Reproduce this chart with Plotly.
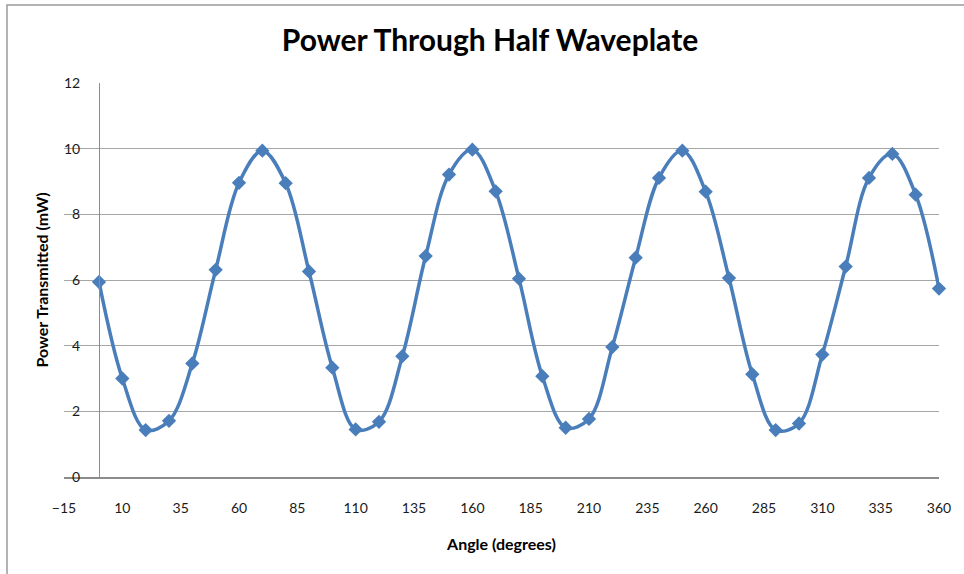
import plotly.graph_objects as go

angles = list(range(0, 361, 10))
power_mw = [5.94, 3.00, 1.43, 1.71, 3.46, 6.31, 8.96, 9.94, 8.95, 6.26,
            3.33, 1.45, 1.68, 3.68, 6.73, 9.21, 9.97, 8.70, 6.04, 3.07,
            1.50, 1.77, 3.96, 6.68, 9.11, 9.94, 8.69, 6.06, 3.13, 1.43,
            1.63, 3.73, 6.41, 9.11, 9.84, 8.60, 5.74]
x_ticks = list(range(-15, 361, 25))
y_ticks = list(range(0, 13, 2))

FONT = "Lato"
GRID = "#A6A6A6"
AXIS = "#8C8C8C"
BLUE = "#4A7EBB"

fig = go.Figure()
fig.add_trace(go.Scatter(
    x=angles, y=power_mw, mode="lines+markers",
    line=dict(color=BLUE, width=3.5, shape="spline", smoothing=1.0),
    marker=dict(symbol="diamond", size=11, color=BLUE),
    cliponaxis=False, showlegend=False,
))

fig.update_layout(
    width=964, height=574,
    paper_bgcolor="white", plot_bgcolor="white",
    margin=dict(l=64, r=25, t=83, b=97),
    font=dict(family=FONT, size=14, color="#1A1A1A"),
    title=dict(text="<b>Power Through Half Waveplate</b>",
               x=490 / 964, xref="container", xanchor="center",
               y=1 - 40 / 574, yref="container", yanchor="middle",
               font=dict(family=FONT, size=30, color="black")),
    xaxis=dict(range=[-15, 360], tickmode="array", tickvals=x_ticks,
               showgrid=False, zeroline=False, showline=True,
               linecolor=AXIS, linewidth=2, ticks="outside", ticklen=0,
               ticklabelstandoff=17,
               title=dict(text="<b>Angle (degrees)</b>", standoff=24,
                          font=dict(family=FONT, size=16, color="black"))),
    yaxis=dict(range=[0, 12], tickmode="array", tickvals=y_ticks,
               anchor="free", position=0.04,
               showgrid=True, gridcolor=GRID, gridwidth=1,
               zeroline=False, showline=True, linecolor=AXIS, linewidth=1,
               ticks="outside", ticklen=0, ticklabelstandoff=16,
               title=dict(text="<b>Power Transmitted (mW)</b>", standoff=10,
                          font=dict(family=FONT, size=16, color="black"))),
    shapes=[dict(type="rect", xref="paper", yref="paper",
                 x0=(7 - 64) / 875, x1=1.2, y0=-0.4, y1=(477 - 5) / 394,
                 line=dict(color="#9A9A9A", width=1.5), layer="below")],
)

fig.write_html("out.html", config={"displayModeBar": False},
               post_script="document.body.style.margin='0';document.body.style.padding='0';")
